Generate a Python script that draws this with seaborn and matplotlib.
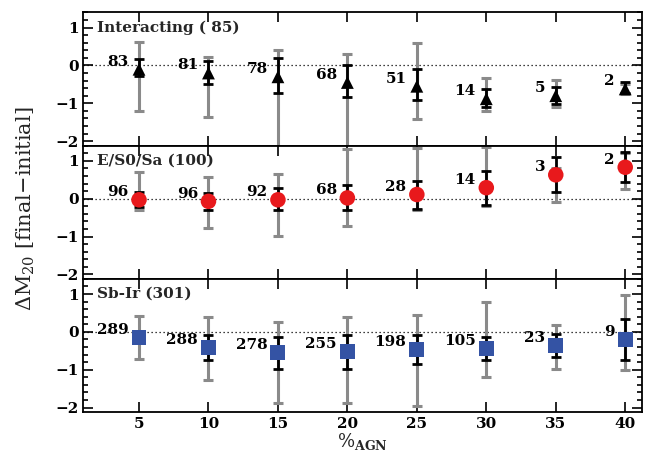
import numpy as np
import pandas as pd
import matplotlib
matplotlib.use("Agg")
import matplotlib.pyplot as plt
from matplotlib.ticker import MultipleLocator
import seaborn as sns

# ---------------- data ----------------
pct_agn = [5, 10, 15, 20, 25, 30, 35, 40]

inter_y = [-0.10, -0.20, -0.30, -0.45, -0.55, -0.88, -0.80, -0.62]
inter_blk_lo = [-0.28, -0.49, -0.73, -0.84, -0.90, -1.10, -1.02, -0.72]
inter_blk_hi = [0.16, 0.12, 0.19, 0.00, -0.10, -0.61, -0.57, -0.44]
inter_gry_lo = [-1.20, -1.37, -2.20, -2.20, -1.41, -1.20, -1.10, -0.75]
inter_gry_hi = [0.63, 0.22, 0.42, 0.30, 0.60, -0.33, -0.39, -0.50]
inter_n = [83, 81, 78, 68, 51, 14, 5, 2]

early_y = [-0.03, -0.07, -0.03, 0.02, 0.11, 0.29, 0.63, 0.83]
early_blk_lo = [-0.22, -0.29, -0.30, -0.30, -0.28, -0.17, 0.17, 0.43]
early_blk_hi = [0.17, 0.16, 0.28, 0.35, 0.48, 0.74, 1.10, 1.22]
early_gry_lo = [-0.29, -0.78, -0.98, -0.72, -0.30, -0.19, -0.09, 0.26]
early_gry_hi = [0.70, 0.58, 0.65, 1.30, 1.33, 1.37, 0.80, 1.20]
early_n = [96, 96, 92, 68, 28, 14, 3, 2]

late_y = [-0.16, -0.42, -0.55, -0.53, -0.47, -0.44, -0.37, -0.20]
late_blk_lo = [-0.29, -0.75, -0.97, -0.97, -0.84, -0.75, -0.66, -0.75]
late_blk_hi = [-0.02, -0.07, -0.13, -0.09, -0.09, -0.13, -0.06, 0.34]
late_gry_lo = [-0.71, -1.28, -1.88, -1.88, -1.95, -1.18, -0.99, -1.02]
late_gry_hi = [0.42, 0.38, 0.25, 0.38, 0.44, 0.78, 0.18, 0.97]
late_n = [289, 288, 278, 255, 198, 105, 23, 9]

panel_titles = ["Interacting ( 85)", "E/S0/Sa (100)", "Sb-Ir (301)"]
ytick_vals = [-2, -1, 0, 1]
xtick_vals = [5, 10, 15, 20, 25, 30, 35, 40]

# ---------------- style ----------------
sns.set_theme(style="ticks")
plt.rcParams["font.family"] = ["DejaVu Serif"]
plt.rcParams["mathtext.fontset"] = "dejavuserif"

fig, axes = plt.subplots(3, 1, figsize=(6.57, 4.62), dpi=100, sharex=True)
fig.subplots_adjust(left=0.127, right=0.977, top=0.973, bottom=0.108, hspace=0)

panels = [
    (inter_y, inter_blk_lo, inter_blk_hi, inter_gry_lo, inter_gry_hi, inter_n, "^", "black", 85),
    (early_y, early_blk_lo, early_blk_hi, early_gry_lo, early_gry_hi, early_n, "o", "#e8191c", 125),
    (late_y, late_blk_lo, late_blk_hi, late_gry_lo, late_gry_hi, late_n, "s", "#3453a4", 115),
]

for ax, (yv, blo, bhi, glo, ghi, nn, mk, col, ms), title in zip(axes, panels, panel_titles):
    df = pd.DataFrame({"x": pct_agn, "y": yv, "blo": blo, "bhi": bhi,
                       "glo": glo, "ghi": ghi, "n": nn})
    ax.axhline(0, color="black", lw=0.9, ls=(0, (1, 2.2)), zorder=1)
    x = np.array(df["x"], float)
    y = np.array(df["y"], float)
    ax.errorbar(x, y, yerr=[y - df["glo"], df["ghi"] - y], fmt="none",
                ecolor="#8a8a8a", elinewidth=2.2, capsize=3.5, capthick=2.2, zorder=2)
    ax.errorbar(x, y, yerr=[y - df["blo"], df["bhi"] - y], fmt="none",
                ecolor="black", elinewidth=2.0, capsize=3.5, capthick=2.0, zorder=3)
    sns.scatterplot(data=df, x="x", y="y", marker=mk, color=col, s=ms,
                    edgecolor="none", linewidth=0, ax=ax, zorder=4, legend=False)
    for xi, yi, ni in zip(df["x"], df["y"], df["n"]):
        ax.text(xi - 0.75, yi + 0.2, str(ni), ha="right", va="center",
                fontsize=11, fontweight="bold", color="black")
    ax.text(2.0, 1.0, title, ha="left", va="center", fontsize=11, fontweight="bold")

    ax.set_xlim(1, 41.2)
    ax.set_ylim(-2.12, 1.4)
    ax.set_yticks(ytick_vals)
    ax.yaxis.set_minor_locator(MultipleLocator(0.2))
    ax.set_xticks(xtick_vals)
    ax.tick_params(which="both", direction="in", top=True, right=True,
                   labelsize=11, width=1.2, color="black", labelcolor="black")
    ax.tick_params(which="major", length=7)
    ax.tick_params(which="minor", length=3.5)
    for lab in ax.get_xticklabels() + ax.get_yticklabels():
        lab.set_fontweight("bold")
    for sp in ax.spines.values():
        sp.set_linewidth(1.3)
        sp.set_color("black")
    ax.set_ylabel("")
    ax.set_xlabel("")

axes[2].set_xlabel(r"$\%_{\mathbf{AGN}}$", fontsize=13, labelpad=0)
fig.text(0.04, 0.547, r"$\Delta$M$_{20}$ [final$-$initial]", rotation=90,
         ha="center", va="center", fontsize=15, fontweight="normal")

fig.savefig("out.png", dpi=100)
